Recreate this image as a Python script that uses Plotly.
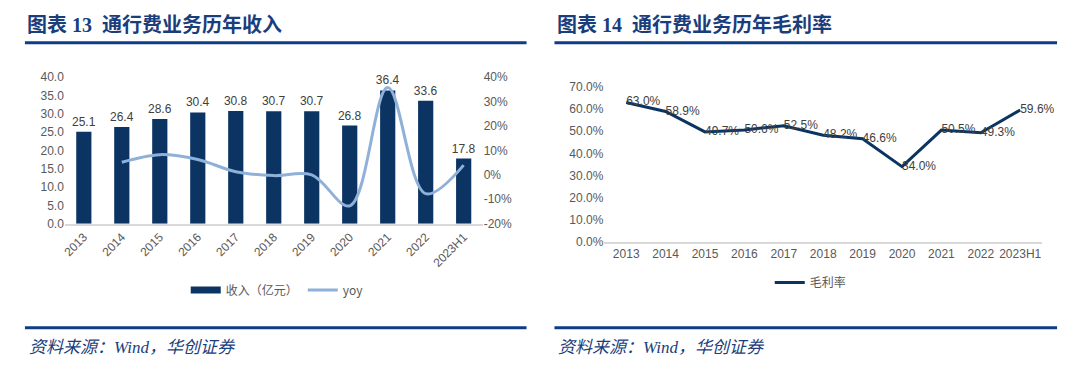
import plotly.graph_objects as go

W, H = 1080, 378

years = ["2013", "2014", "2015", "2016", "2017", "2018", "2019", "2020", "2021", "2022", "2023H1"]
revenue = [25.1, 26.4, 28.6, 30.4, 30.8, 30.7, 30.7, 26.8, 36.4, 33.6, 17.8]
yoy = [None, 0.052, 0.083, 0.063, 0.013, -0.003, 0.000, -0.127, 0.358, -0.077, 0.040]
gross_margin = [0.630, 0.589, 0.497, 0.506, 0.525, 0.482, 0.466, 0.340, 0.505, 0.493, 0.596]
yoy_tickvals = [-0.2, -0.1, 0.0, 0.1, 0.2, 0.3, 0.4]
yoy_ticktext = ["-20%", "-10%", "0%", "10%", "20%", "30%", "40%"]

title_left = "图表 13  通行费业务历年收入"
title_right = "图表 14  通行费业务历年毛利率"
source_text = "资料来源：Wind，华创证券"

NAVY = "#0B3463"
LIGHT = "#8FB1D9"
TICK = "#595959"
LABEL = "#404040"
HEAD = "#1A3D7C"
RULE = "#0E3C86"
HEAD_FONT = "Liberation Serif, Noto Sans CJK SC"


def px_x(v):
    return v / W


def px_y(v):
    return 1 - v / H


fig = go.Figure()

fig.add_trace(go.Bar(
    x=years, y=revenue, xaxis="x", yaxis="y",
    marker=dict(color=NAVY, line=dict(width=0)), width=0.4,
    text=[f"{v:.1f}" for v in revenue], textposition="outside",
    constraintext="none",
    textfont=dict(size=12, color=LABEL, family="Liberation Sans"),
    cliponaxis=False, showlegend=False, name="收入（亿元）",
))
fig.add_trace(go.Scatter(
    x=[None], y=[None], xaxis="x", yaxis="y", mode="lines",
    line=dict(color=NAVY, width=7), name="收入（亿元）", legend="legend",
))
fig.add_trace(go.Scatter(
    x=years, y=yoy, xaxis="x", yaxis="y2", mode="lines",
    line=dict(color=LIGHT, width=3, shape="spline", smoothing=1.0),
    name="yoy", legend="legend", connectgaps=False,
))

fig.add_trace(go.Scatter(
    x=years, y=gross_margin, xaxis="x3", yaxis="y3", mode="lines+text",
    line=dict(color=NAVY, width=3),
    text=[f"{v*100:.1f}%" for v in gross_margin], textposition="middle right",
    textfont=dict(size=12, color=LABEL, family="Liberation Sans"),
    cliponaxis=False, name="毛利率", legend="legend2",
))

tickfont = dict(size=12, color=TICK, family="Liberation Sans")

shapes = []
for x0, x1 in [(22, 525), (553, 1057)]:
    for yy in (37, 333):
        shapes.append(dict(type="line", xref="paper", yref="paper",
                           x0=px_x(x0), x1=px_x(x1), y0=px_y(yy), y1=px_y(yy),
                           line=dict(color=RULE, width=3)))

annotations = [
    dict(text=f"<b>{title_left}</b>", xref="paper", yref="paper", x=px_x(22), y=px_y(19),
         xanchor="left", yanchor="middle", showarrow=False,
         font=dict(size=20, color=HEAD, family=HEAD_FONT)),
    dict(text=f"<b>{title_right}</b>", xref="paper", yref="paper", x=px_x(554), y=px_y(19),
         xanchor="left", yanchor="middle", showarrow=False,
         font=dict(size=20, color=HEAD, family=HEAD_FONT)),
    dict(text=f"<i>{source_text}</i>", xref="paper", yref="paper", x=px_x(24), y=px_y(354),
         xanchor="left", yanchor="middle", showarrow=False,
         font=dict(size=17, color=HEAD, family=HEAD_FONT)),
    dict(text=f"<i>{source_text}</i>", xref="paper", yref="paper", x=px_x(555), y=px_y(354),
         xanchor="left", yanchor="middle", showarrow=False,
         font=dict(size=17, color=HEAD, family=HEAD_FONT)),
]

fig.update_layout(
    width=W, height=H, margin=dict(l=0, r=0, t=0, b=0),
    paper_bgcolor="white", plot_bgcolor="white",
    xaxis=dict(domain=[px_x(62), px_x(481)], anchor="y", tickangle=-45,
               tickfont=tickfont, showgrid=False, showline=True,
               linecolor="#D9D9D9", linewidth=1.5, ticks=""),
    yaxis=dict(domain=[px_y(225), px_y(73)], range=[0, 40], dtick=5, tickformat=".1f",
               tickfont=tickfont, showgrid=False, zeroline=False, showline=False, ticks=""),
    yaxis2=dict(overlaying="y", side="right", anchor="x", range=[-0.2, 0.4],
                tickmode="array", tickvals=yoy_tickvals, ticktext=yoy_ticktext,
                tickfont=tickfont, showgrid=False, zeroline=False,
                showline=False, ticks=""),
    xaxis3=dict(domain=[px_x(603), px_x(1042)], anchor="y3", tickangle=0,
                tickfont=tickfont, showgrid=False, showline=True,
                linecolor="#D9D9D9", linewidth=1.5, ticks=""),
    yaxis3=dict(domain=[px_y(244), px_y(83)], anchor="x3", range=[0, 0.7], dtick=0.1,
                tickformat=".1%", tickfont=tickfont, showgrid=False, zeroline=False,
                showline=False, ticks=""),
    legend=dict(orientation="h", x=px_x(275), y=px_y(294), xanchor="center", yanchor="middle",
                font=dict(size=12, color=TICK, family="Noto Sans CJK SC"),
                bgcolor="rgba(0,0,0,0)", itemwidth=30, traceorder="normal"),
    legend2=dict(orientation="h", x=px_x(810), y=px_y(286), xanchor="center", yanchor="middle",
                 font=dict(size=12, color=TICK, family="Noto Sans CJK SC"),
                 bgcolor="rgba(0,0,0,0)", itemwidth=30),
    shapes=shapes,
    annotations=annotations,
)

fig.write_html(
    "out.html",
    config={"displayModeBar": False},
    post_script="document.body.style.margin='0';document.body.style.overflow='hidden';",
)
